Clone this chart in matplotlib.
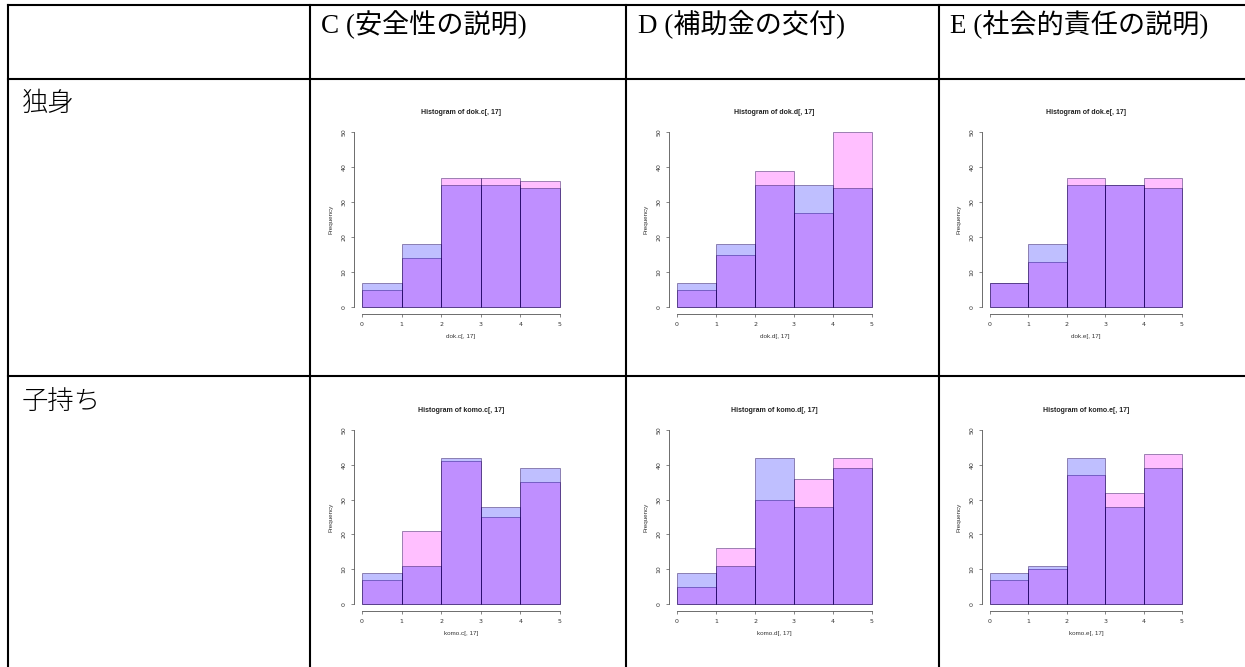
import matplotlib.pyplot as plt
import numpy as np

# table texts
col_heads = ['C (安全性の説明)', 'D (補助金の交付)', 'E (社会的責任の説明)']
row_heads = ['独身', '子持ち']
titles = [['dok.c[, 17]', 'dok.d[, 17]', 'dok.e[, 17]'],
          ['komo.c[, 17]', 'komo.d[, 17]', 'komo.e[, 17]']]

# histogram counts per bin (0-1, 1-2, 2-3, 3-4, 4-5)
bins = [0, 1, 2, 3, 4, 5]
mids = [0.5, 1.5, 2.5, 3.5, 4.5]
dok_base = [7, 18, 35, 35, 34]
dok_c = [5, 14, 37, 37, 36]
dok_d = [5, 15, 39, 27, 50]
dok_e = [7, 13, 37, 35, 37]
komo_base = [9, 11, 42, 28, 39]
komo_c = [7, 21, 41, 25, 35]
komo_d = [5, 16, 30, 36, 42]
komo_e = [7, 10, 37, 32, 43]

pinks = [[dok_c, dok_d, dok_e], [komo_c, komo_d, komo_e]]
blues = [dok_base, komo_base]

W, H = 1245, 667
fig = plt.figure(figsize=(W / 100, H / 100), dpi=100)

bg = fig.add_axes([0, 0, 1, 1])
bg.set_xlim(0, W)
bg.set_ylim(H, 0)
bg.axis('off')

#lineas de la tabla
lw = 1.5
bg.plot([8, W], [5, 5], color='k', lw=lw)
bg.plot([8, W], [79, 79], color='k', lw=lw)
bg.plot([8, W], [376, 376], color='k', lw=lw)
for xv in (8, 310, 626, 939):
    bg.plot([xv, xv], [5, H], color='k', lw=lw)

head_font = ['Liberation Serif', 'Noto Sans CJK JP']
for x0, txt in zip((321, 638, 950), col_heads):
    bg.text(x0, 25, txt, fontsize=19.5, family=head_font, va='center', ha='left')
for y0, txt in zip((103, 402), row_heads):
    bg.text(22, y0, txt, fontsize=19, family=['Noto Sans CJK JP'],
            fontweight='light', va='center', ha='left')

# pixel positions of value 0 and 5 on x, 0 and 50 on y for every panel
x_px = [(362, 560), (677, 872), (990, 1182)]
y_px = [(307, 132), (604, 430)]

pink = (1, 0, 1, 0.25)
blue = (0, 0, 1, 0.25)
txtc = '#333333'

for r in range(2):
    for c in range(3):
        xa, xb = x_px[c]
        ya, yb = y_px[r]
        sx = (xb - xa) / 5.0
        sy = (ya - yb) / 50.0
        left = xa - 0.2 * sx
        right = xb + 0.2 * sx
        bottom = ya + 2 * sy
        top = yb - 2 * sy
        ax = fig.add_axes([left / W, 1 - bottom / H, (right - left) / W, (bottom - top) / H])
        ax.hist(mids, bins=bins, weights=pinks[r][c], facecolor=pink,
                edgecolor=(0.1, 0, 0.3, 0.6), linewidth=0.5)
        ax.hist(mids, bins=bins, weights=blues[r], facecolor=blue,
                edgecolor=(0.1, 0, 0.3, 0.6), linewidth=0.5)
        ax.set_xlim(-0.2, 5.2)
        ax.set_ylim(-2, 52)
        ax.spines['top'].set_visible(False)
        ax.spines['right'].set_visible(False)
        ax.spines['left'].set_bounds(0, 50)
        ax.spines['bottom'].set_bounds(0, 5)
        for s in ('left', 'bottom'):
            ax.spines[s].set_color('#555555')
            ax.spines[s].set_linewidth(0.6)
        ax.set_xticks(bins)
        ax.set_yticks([0, 10, 20, 30, 40, 50])
        ax.tick_params(length=2.5, width=0.5, pad=3, labelsize=4.5,
                       colors='#555555', labelcolor=txtc)
        for lab in ax.get_yticklabels():
            lab.set_rotation(90)
            lab.set_va('center')
        ax.set_title('Histogram of ' + titles[r][c], fontsize=5, fontweight='bold',
                     color='#222222', pad=8, family='Liberation Sans')
        ax.set_xlabel(titles[r][c], fontsize=4.5, color=txtc, labelpad=5,
                      family='Liberation Sans')
        ax.set_ylabel('Frequency', fontsize=4.5, color=txtc, labelpad=6,
                      family='Liberation Sans')
        ax.patch.set_alpha(0)

fig.savefig('out.png', dpi=100)
